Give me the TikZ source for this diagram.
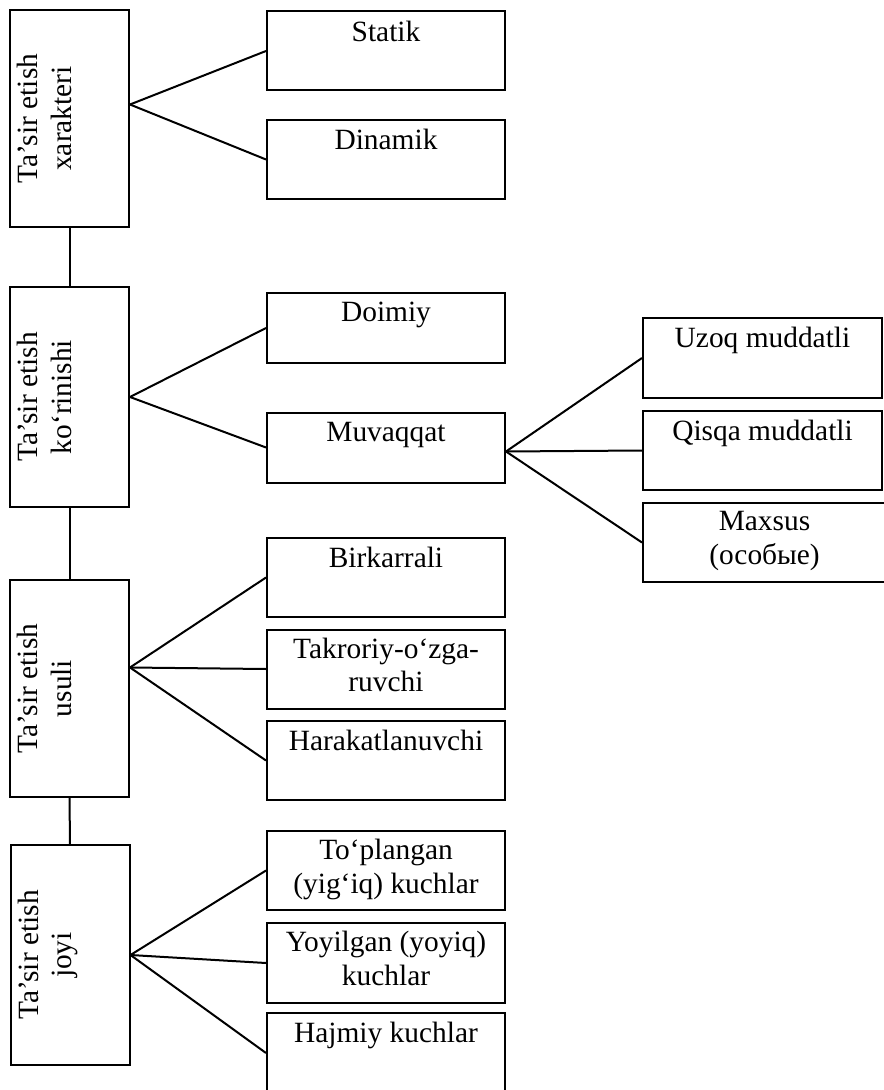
\documentclass[tikz,border=0pt]{standalone}
\usepackage{fontspec}
\setmainfont{Liberation Serif}
\usetikzlibrary{positioning}

\begin{document}
\begin{tikzpicture}
		[x=0.5pt, y=-0.5pt,
		group/.style={draw, line width=1pt, inner sep=0pt, minimum width=59.5pt},
		item/.style={draw, line width=1pt, inner sep=0pt, minimum width=119pt, minimum height=39.5pt},
		caption/.style={inner sep=0pt, align=center, font=\fontsize{14.7}{16.8}\selectfont},
		link/.style={line width=1pt}]
		\useasboundingbox (0,0) rectangle (883,1090);

		% the four groups on the left
		\node [group, minimum height=108.5pt] (xarakter) at (69.5,118.5) {};
		\node [group, minimum height=110pt] (korinish) at (69.5,397) {};
		\node [group, minimum height=108.5pt] (usul) at (69.5,688.5) {};
		\node [group, minimum height=110pt] (joy) at (70,955) {};
		\node [caption, rotate=90, anchor=north] (xarakter-t) at ([xshift=4pt]xarakter.west) {Ta’sir etish\\xarakteri};
		\node [caption, rotate=90, anchor=north] (korinish-t) at ([xshift=4pt]korinish.west) {Ta’sir etish\\ko‘rinishi};
		\node [caption, rotate=90, anchor=north] (usul-t) at ([xshift=4pt]usul.west) {Ta’sir etish\\usuli};
		\node [caption, rotate=90, anchor=north] (joy-t) at ([xshift=4pt]joy.west) {Ta’sir etish\\joyi};
		\draw [link] (xarakter) -- (korinish);
		\draw [link] (korinish) -- (usul);
		\draw [link] (usul) -- (joy);

		% the boxes in the middle
		\node [item] (statik) at (386,51) {};
		\node [item] (dinamik) at (386,159.5) {};
		\node [item, minimum height=35pt] (doimiy) at (386,328) {};
		\node [item, minimum height=35pt] (muvaqqat) at (386,447.5) {};
		\node [item] (birkarrali) at (386,577.5) {};
		\node [item] (takroriy) at (386,669) {};
		\node [item] (harakat) at (386,760.5) {};
		\node [item] (toplangan) at (386,870.5) {};
		\node [item, minimum height=40pt] (yoyilgan) at (386,963) {};
		\node [item, minimum height=40pt] (hajmiy) at (386,1053) {};
		\node [caption, below=5pt of statik.north] (statik-t) {Statik};
		\node [caption, below=5pt of dinamik.north] (dinamik-t) {Dinamik};
		\node [caption, below=5pt of doimiy.north] (doimiy-t) {Doimiy};
		\node [caption, below=5pt of muvaqqat.north] (muvaqqat-t) {Muvaqqat};
		\node [caption, below=5pt of birkarrali.north] (birkarrali-t) {Birkarrali};
		\node [caption, below=4.5pt of takroriy.north] (takroriy-t) {Takroriy-o‘zga-\\ruvchi};
		\node [caption, below=5pt of harakat.north] (harakat-t) {Harakatlanuvchi};
		\node [caption, below=4.5pt of toplangan.north] (toplangan-t) {To‘plangan\\(yig‘iq) kuchlar};
		\node [caption, below=4.5pt of yoyilgan.north] (yoyilgan-t) {Yoyilgan (yoyiq)\\kuchlar};
		\node [caption, below=5pt of hajmiy.north] (hajmiy-t) {Hajmiy kuchlar};

		% the boxes on the right
		\node [item, minimum width=119.5pt, minimum height=40pt] (uzoq) at (762.5,358) {};
		\node [item, minimum width=119.5pt] (qisqa) at (762.5,450.5) {};
		\node [item, minimum width=121.5pt] (maxsus) at (764.5,542.5) {};
		\node [caption, below=5pt of uzoq.north] (uzoq-t) {Uzoq muddatli};
		\node [caption, below=5pt of qisqa.north] (qisqa-t) {Qisqa muddatli};
		\node [caption, below=4.5pt of maxsus.north] (maxsus-t) {Maxsus\\(особые)};

		% draw the fans
		\draw [link] ([yshift=7pt]xarakter.east) -- (statik.west);
		\draw [link] ([yshift=7pt]xarakter.east) -- (dinamik.west);
		\draw [link] (korinish.east) -- (doimiy.west);
		\draw [link] (korinish.east) -- (muvaqqat.west);
		\draw [link] ([yshift=10.5pt]usul.east) -- (birkarrali.west);
		\draw [link] ([yshift=10.5pt]usul.east) -- (takroriy.west);
		\draw [link] ([yshift=10.5pt]usul.east) -- (harakat.west);
		\draw [link] (joy.east) -- (toplangan.west);
		\draw [link] (joy.east) -- (yoyilgan.west);
		\draw [link] (joy.east) -- (hajmiy.west);
		\draw [link] ([yshift=-2pt]muvaqqat.east) -- (uzoq.west);
		\draw [link] ([yshift=-2pt]muvaqqat.east) -- (qisqa.west);
		\draw [link] ([yshift=-2pt]muvaqqat.east) -- (maxsus.west);
	\end{tikzpicture}
\end{document}
